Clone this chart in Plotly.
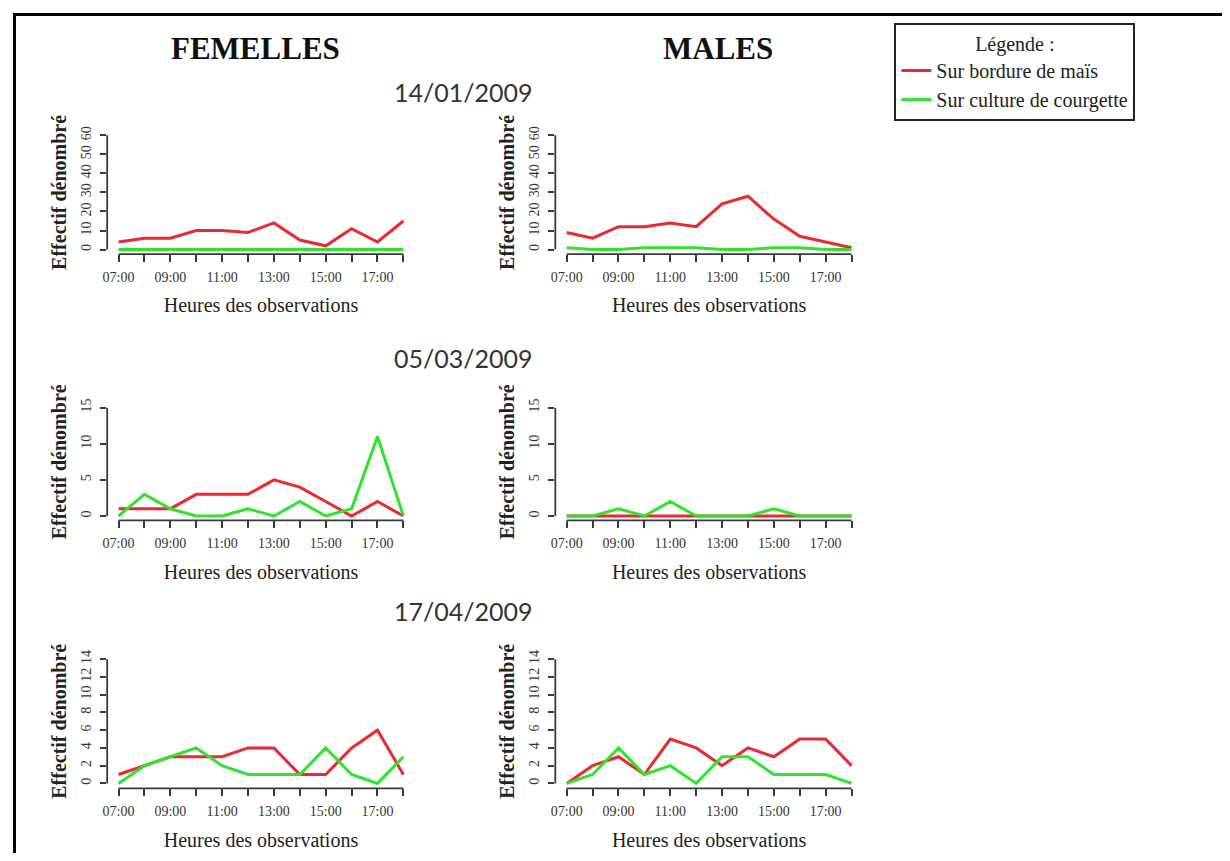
import plotly.graph_objects as go

# ---------------- data ----------------
hours = [7, 8, 9, 10, 11, 12, 13, 14, 15, 16, 17, 18]
hour_labels = ["07:00", "", "09:00", "", "11:00", "", "13:00", "", "15:00", "", "17:00", ""]

series_names = ["Sur bordure de maïs", "Sur culture de courgette"]
dates = ["14/01/2009", "05/03/2009", "17/04/2009"]
sexes = ["FEMELLES", "MALES"]

f_140109_mais = [4, 6, 6, 10, 10, 9, 14, 5, 2, 11, 4, 15]
f_140109_courgette = [0, 0, 0, 0, 0, 0, 0, 0, 0, 0, 0, 0]
m_140109_mais = [9, 6, 12, 12, 14, 12, 24, 28, 16, 7, 4, 1]
m_140109_courgette = [1, 0, 0, 1, 1, 1, 0, 0, 1, 1, 0, 0]

f_050309_mais = [1, 1, 1, 3, 3, 3, 5, 4, 2, 0, 2, 0]
f_050309_courgette = [0, 3, 1, 0, 0, 1, 0, 2, 0, 1, 11, 0]
m_050309_mais = [0, 0, 0, 0, 0, 0, 0, 0, 0, 0, 0, 0]
m_050309_courgette = [0, 0, 1, 0, 2, 0, 0, 0, 1, 0, 0, 0]

f_170409_mais = [1, 2, 3, 3, 3, 4, 4, 1, 1, 4, 6, 1]
f_170409_courgette = [0, 2, 3, 4, 2, 1, 1, 1, 4, 1, 0, 3]
m_170409_mais = [0, 2, 3, 1, 5, 4, 2, 4, 3, 5, 5, 2]
m_170409_courgette = [0, 1, 4, 1, 2, 0, 3, 3, 1, 1, 1, 0]

row_yticks = [
    [0, 10, 20, 30, 40, 50, 60],
    [0, 5, 10, 15],
    [0, 2, 4, 6, 8, 10, 12, 14],
]

panels = [
    (f_140109_mais, f_140109_courgette), (m_140109_mais, m_140109_courgette),
    (f_050309_mais, f_050309_courgette), (m_050309_mais, m_050309_courgette),
    (f_170409_mais, f_170409_courgette), (m_170409_mais, m_170409_courgette),
]

colors = ["#ea2a30", "#2fe32f"]

# ---------------- layout geometry (screen pixels) ----------------
OFF = 8                       # page body margin
W, H = 1230 - 2 * OFF, 861 - 2 * OFF


def fx(px):
    return (px - OFF) / W


def fy(py):
    return 1 - (py - OFF) / H


col_px = [(114, 400), (564, 850)]              # pixel of first / last hour
row_px = [(246, 131), (514, 405), (783, 658)]  # pixel of y=0 / y=max tick

SERIF = "Liberation Serif"
AXIS_COL = "#3a3a3a"

fig = go.Figure()
layout = {}
shapes = []
annotations = []

for idx, (mais, courg) in enumerate(panels):
    r, c = divmod(idx, 2)
    n = idx + 1
    xs = "" if n == 1 else str(n)
    xa, ya = "x" + xs, "y" + xs

    x0p, x1p = col_px[c]
    xmin, xmax = hours[0], hours[-1]
    xpad = 0.04 * (xmax - xmin)
    ppu_x = (x1p - x0p) / (xmax - xmin)
    xd = [fx(x0p - xpad * ppu_x), fx(x1p + xpad * ppu_x)]

    yt = row_yticks[r]
    y0p, y1p = row_px[r]
    ymax = yt[-1]
    ypad = 0.04 * ymax
    ppu_y = (y0p - y1p) / ymax
    yd = [fy(y0p + ypad * ppu_y), fy(y1p - ypad * ppu_y)]

    for s, (vals, name) in enumerate(zip((mais, courg), series_names)):
        fig.add_trace(go.Scatter(
            x=hours, y=vals, mode="lines", name=name,
            line=dict(color=colors[s], width=3),
            xaxis=xa, yaxis=ya, legendgroup=name, showlegend=(idx == 0),
        ))

    layout["xaxis" + xs] = dict(
        domain=xd, range=[xmin - xpad, xmax + xpad], anchor=ya,
        tickmode="array", tickvals=hours, ticktext=hour_labels,
        ticks="outside", ticklen=7, tickwidth=1.5, tickcolor=AXIS_COL,
        showline=False, showgrid=False, zeroline=False,
        tickfont=dict(family=SERIF, size=14, color="#333"),
        ticklabelstandoff=3,
        title=dict(text="Heures des observations", font=dict(family=SERIF, size=20, color="#222"), standoff=14),
    )
    layout["yaxis" + xs] = dict(
        domain=yd, range=[-ypad, ymax + ypad], anchor=xa,
        tickmode="array", tickvals=yt, ticktext=[str(v) for v in yt],
        ticks="outside", ticklen=6, tickwidth=1.5, tickcolor=AXIS_COL,
        tickangle=-90,
        showline=False, showgrid=False, zeroline=False,
        tickfont=dict(family=SERIF, size=14, color="#333"),
        ticklabelstandoff=4,
        title=dict(text="<b>Effectif dénombré</b>", font=dict(family=SERIF, size=20, color="#222"), standoff=6),
    )
    # R-style detached axis lines (spanning only the tick range)
    shapes.append(dict(type="line", xref=xa, yref=ya + " domain", x0=xmin, x1=xmax, y0=0, y1=0,
                       line=dict(color=AXIS_COL, width=1.8)))
    shapes.append(dict(type="line", xref=xa + " domain", yref=ya, x0=0, x1=0, y0=0, y1=ymax,
                       line=dict(color=AXIS_COL, width=1.8)))

# headings
for txt, xc in zip(sexes, [252, 716]):
    annotations.append(dict(text="<b>" + txt + "</b>", x=fx(xc), y=fy(44), xref="paper", yref="paper",
                            showarrow=False, xanchor="center", yanchor="middle",
                            font=dict(family=SERIF, size=31, color="#111")))
for txt, yc in zip(dates, [87, 355, 610]):
    annotations.append(dict(text=txt, x=fx(460), y=fy(yc), xref="paper", yref="paper",
                            showarrow=False, xanchor="center", yanchor="middle",
                            font=dict(family="Lato", size=25, color="#333")))

# outer frame (top and left edges)
shapes.append(dict(type="line", xref="paper", yref="paper", x0=fx(8), x1=1, y0=fy(9.5), y1=fy(9.5),
                   line=dict(color="black", width=3)))
shapes.append(dict(type="line", xref="paper", yref="paper", x0=fx(9.5), x1=fx(9.5), y0=fy(8), y1=0,
                   line=dict(color="black", width=3)))

fig.update_layout(
    **layout,
    width=W, height=H,
    margin=dict(l=0, r=0, t=0, b=0),
    paper_bgcolor="white", plot_bgcolor="white",
    shapes=shapes, annotations=annotations,
    showlegend=True,
    legend=dict(
        x=fx(893), y=fy(18), xanchor="left", yanchor="top",
        bordercolor="#222", borderwidth=2, bgcolor="white",
        font=dict(family=SERIF, size=20, color="#222"),
        title=dict(text="Légende :", side="top center", font=dict(family=SERIF, size=20, color="#222")),
        itemwidth=30, tracegroupgap=0,
    ),
)

fig.write_html("out.html")
